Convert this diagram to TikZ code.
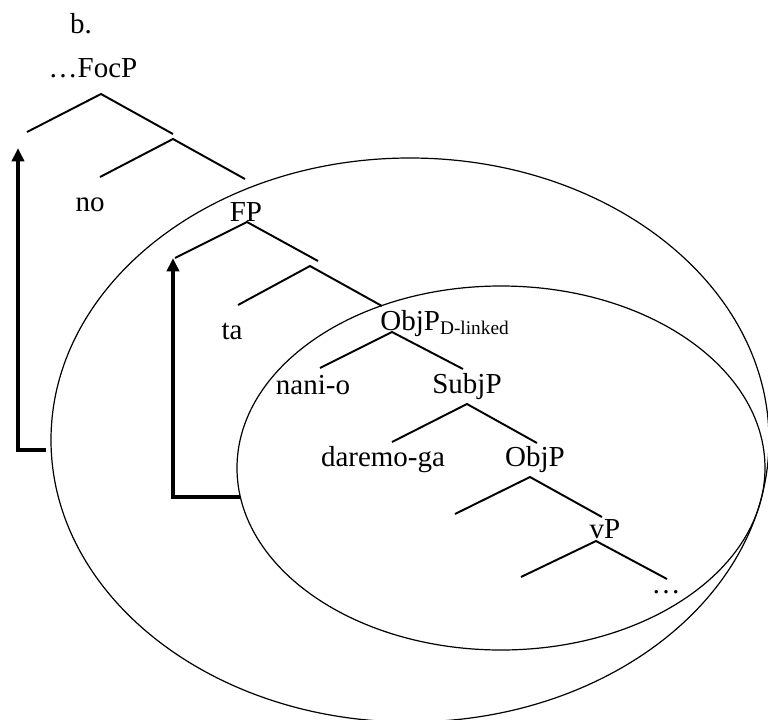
\documentclass[tikz,border=0pt]{standalone}
\usepackage{fontspec}
\setmainfont{Liberation Serif}
\usetikzlibrary{arrows.meta}

\begin{document}
\begin{tikzpicture}[
  x=0.414pt, y=-0.414pt,
  lbl/.style={font=\fontsize{12}{14}\selectfont, anchor=base, inner sep=0pt},
  branch/.style={line width=0.8pt},
  ring/.style={line width=0.5pt},
  move/.style={-{Triangle[length=5.5pt, width=5pt]}, line width=1.3pt}
]
  \useasboundingbox (0,0) rectangle (768,720);

  % labels
  \node[lbl] (ex)    at (81,33)   {b.};
  \node[lbl] (focp)  at (93,77)   {\dots FocP};
  \node[lbl] (no)    at (90,211)  {no};
  \node[lbl] (fp)    at (246,221) {FP};
  \node[lbl] (ta)    at (232,339) {ta};
  \node[lbl, anchor=base west] (objdl) at (380,330)
    {ObjP\textsubscript{D-linked}};
  \node[lbl] (nanio) at (313,394) {nani-o};
  \node[lbl] (subjp) at (467,393) {SubjP};
  \node[lbl] (dare)  at (383,466) {daremo-ga};
  \node[lbl] (objp)  at (535,466) {ObjP};
  \node[lbl] (vp)    at (605,538) {vP};
  \node[lbl] (dots)  at (666,593) {\dots};

  % branch points
  \coordinate (focp-top) at (101,94);
  \coordinate (focp-l)   at (27,132);
  \coordinate (focp-r)   at (173,134);
  \coordinate (foc-top)  at (173,139);
  \coordinate (foc-l)    at (100,177);
  \coordinate (foc-r)    at (245,179);
  \coordinate (fp-top)   at (247,222);
  \coordinate (fp-l)     at (175,258);
  \coordinate (fp-r)     at (318,261);
  \coordinate (f-top)    at (310,266);
  \coordinate (f-l)      at (238,305);
  \coordinate (f-r)      at (382,306);
  \coordinate (obj-top)  at (392,332);
  \coordinate (obj-l)    at (320,368);
  \coordinate (obj-r)    at (463,369);
  \coordinate (subj-top) at (467,404);
  \coordinate (subj-l)   at (392,442);
  \coordinate (subj-r)   at (537,443);
  \coordinate (objp-top) at (530,477);
  \coordinate (objp-l)   at (455,514);
  \coordinate (objp-r)   at (602,517);
  \coordinate (vp-top)   at (596,541);
  \coordinate (vp-l)     at (521,577);
  \coordinate (vp-r)     at (667,579);

  % tree
  \draw[branch] (focp-l) -- (focp-top) -- (focp-r);
  \draw[branch] (foc-l) -- (foc-top) -- (foc-r);
  \draw[branch] (fp-l) -- (fp-top) -- (fp-r);
  \draw[branch] (f-l) -- (f-top) -- (f-r);
  \draw[branch] (obj-l) -- (obj-top) -- (obj-r);
  \draw[branch] (subj-l) -- (subj-top) -- (subj-r);
  \draw[branch] (objp-l) -- (objp-top) -- (objp-r);
  \draw[branch] (vp-l) -- (vp-top) -- (vp-r);

  % domains
  \draw[ring] (410,440) ellipse [x radius=359, y radius=282];
  \draw[ring] (501,468) ellipse [x radius=264, y radius=182];

  % movement
  \coordinate (out-start) at (46,450);
  \coordinate (out-turn)  at (18,450);
  \coordinate (out-end)   at (18,148);
  \coordinate (in-start)  at (240,497);
  \coordinate (in-turn)   at (173,497);
  \coordinate (in-end)    at (173,258);
  \draw[move] (out-start) -- (out-turn) -- (out-end);
  \draw[move] (in-start) -- (in-turn) -- (in-end);
\end{tikzpicture}
\end{document}
